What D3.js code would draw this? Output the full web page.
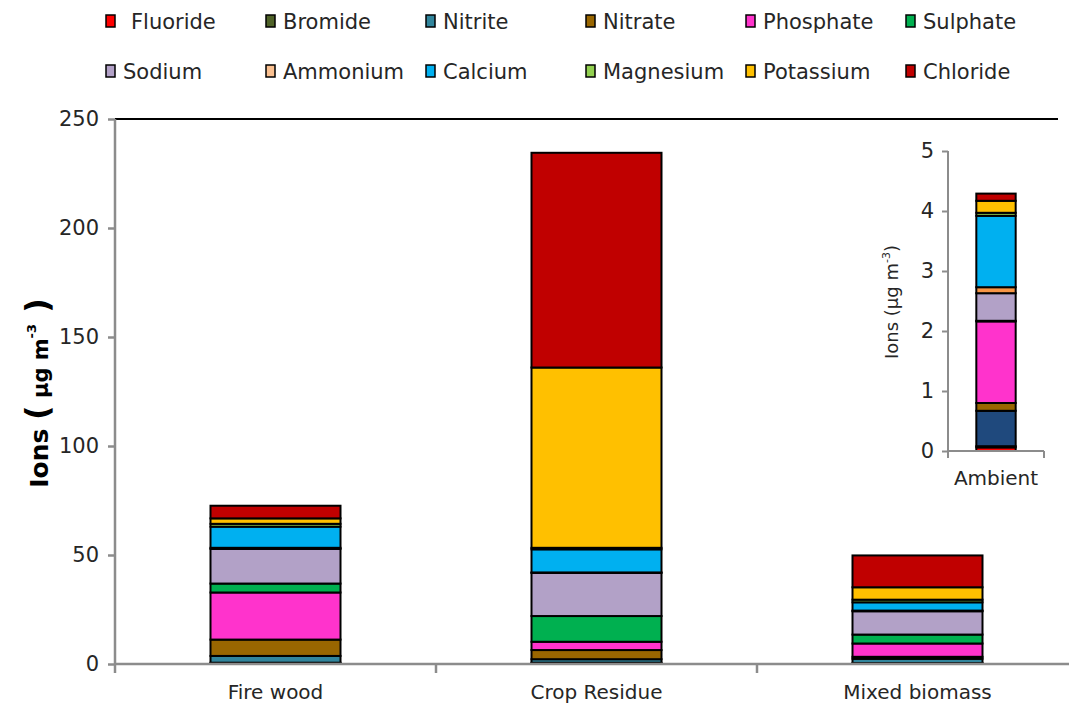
<!DOCTYPE html>
<html>
<head>
<meta charset="utf-8">
<script src="https://cdn.jsdelivr.net/npm/d3@7/dist/d3.min.js"></script>
<style>
  html, body { margin: 0; padding: 0; background: #fff; }
  svg { display: block; font-family: "DejaVu Sans", Verdana, sans-serif; }
</style>
</head>
<body>
<svg id="chart" width="1069" height="708"></svg>
<script>
// Ion species, stacked bottom to top
const ions = ["Fluoride", "Bromide", "Nitrite", "Nitrate", "Phosphate", "Sulphate",
              "Sodium", "Ammonium", "Calcium", "Magnesium", "Potassium", "Chloride"];

// Source categories of the main panel
const sources = ["Fire wood", "Crop Residue", "Mixed biomass"];

// Ion concentrations (µg m-3) per source, in the order of `ions`
const fireWood     = [0.3, 0.3, 3.1, 7.5, 21.6, 4.1, 15.9, 0.5, 9.7, 1.3, 2.5, 5.8];
const cropResidue  = [0.3, 0.3, 1.6, 4.2, 3.8, 11.8, 19.8, 0.2, 10.6, 0.7, 82.7, 98.5];
const mixedBiomass = [0.2, 0.2, 2.0, 0.9, 6.1, 4.1, 10.7, 0.3, 3.8, 1.2, 5.7, 14.6];

// Ambient concentrations (µg m-3), shown in the inset
const ambientLabel = ["Ambient"];
const ambient      = [0.06, 0.02, 0.59, 0.13, 1.36, 0.01, 0.46, 0.10, 1.19, 0.05, 0.20, 0.12];

// Axis tick values
const mainTicks  = [0, 50, 100, 150, 200, 250];
const insetTicks = [0, 1, 2, 3, 4, 5];

// Fill colours
const ionColors   = ["#FF0000", "#4F6228", "#31859C", "#996600", "#FF33CC", "#00B050",
                     "#B2A1C7", "#FAC090", "#00B0F0", "#92D050", "#FFC000", "#C00000"];
const insetColors = ["#FF0000", "#4F6228", "#1F497D", "#996600", "#FF33CC", "#00B050",
                     "#B2A1C7", "#F79646", "#00B0F0", "#92D050", "#FFC000", "#C00000"];

const svg = d3.select("#chart");
const axisGrey = "#8C8C8C";
const textCol = "#262626";
const font = "DejaVu Sans, Verdana, sans-serif";

// ---------- main panel ----------
const plot = { left: 115, right: 1078, top: 119, bottom: 664 };

const y = d3.scaleLinear().domain([0, 250]).range([plot.bottom, plot.top]);
const x = d3.scaleBand().domain(sources).range([plot.left, plot.right])
  .paddingInner(0.595).paddingOuter(0.2975);
const xCell = d3.scaleBand().domain(sources).range([plot.left, plot.right]);

const mainRows = sources.map((s, i) => {
  const vals = [fireWood, cropResidue, mixedBiomass][i];
  const row = { source: s };
  ions.forEach((k, j) => row[k] = vals[j]);
  return row;
});
const mainStack = d3.stack().keys(ions)(mainRows);

// top frame line
svg.append("line")
  .attr("x1", plot.left).attr("x2", 1058)
  .attr("y1", plot.top).attr("y2", plot.top)
  .attr("stroke", "#000").attr("stroke-width", 2);

// bars
const gBars = svg.append("g");
mainStack.forEach((layer, li) => {
  gBars.selectAll(null).data(layer).join("rect")
    .attr("x", d => x(d.data.source))
    .attr("width", x.bandwidth())
    .attr("y", d => y(d[1]))
    .attr("height", d => y(d[0]) - y(d[1]))
    .attr("fill", ionColors[li])
    .attr("stroke", "#000")
    .attr("stroke-width", 2);
});

// y axis
const yAxis = svg.append("g")
  .attr("transform", `translate(${plot.left},0)`)
  .call(d3.axisLeft(y).tickValues(mainTicks).tickSize(7).tickPadding(9));
yAxis.select(".domain").attr("stroke", axisGrey).attr("stroke-width", 2.5)
  .attr("d", `M0,${plot.top}V${plot.bottom}`);
yAxis.selectAll(".tick line").attr("stroke", axisGrey).attr("stroke-width", 2.5);
yAxis.selectAll(".tick text").attr("fill", textCol)
  .style("font-size", "21px").style("font-family", font);

// x axis
const xAxis = svg.append("g")
  .attr("transform", `translate(0,${plot.bottom})`)
  .call(d3.axisBottom(x).tickSize(0).tickPadding(21));
xAxis.select(".domain").attr("stroke", axisGrey).attr("stroke-width", 2.5)
  .attr("d", `M${plot.left},0H${plot.right}`);
xAxis.selectAll(".tick text").attr("fill", textCol)
  .style("font-size", "20px").style("font-family", font);
// category separator ticks
xAxis.selectAll("line.sep").data(sources.concat([null])).join("line")
  .attr("class", "sep")
  .attr("x1", (d, i) => plot.left + i * xCell.step())
  .attr("x2", (d, i) => plot.left + i * xCell.step())
  .attr("y1", 0).attr("y2", 9)
  .attr("stroke", axisGrey).attr("stroke-width", 2.5);

// y axis title
const yTitle = svg.append("text")
  .attr("transform", `translate(48,393) rotate(-90)`)
  .attr("text-anchor", "middle")
  .attr("fill", "#000")
  .style("font-weight", "bold");
yTitle.append("tspan").style("font-size", "25px").text("Ions ");
yTitle.append("tspan").style("font-size", "32px").text("(");
yTitle.append("tspan").style("font-size", "21px").text(" \u00B5g m");
yTitle.append("tspan").style("font-size", "13px").attr("dy", -12).text("-3");
yTitle.append("tspan").style("font-size", "32px").attr("dy", 12).text(" )");

// ---------- inset: ambient ----------
const inset = { left: 948, right: 1044, top: 151, bottom: 451 };
const yIn = d3.scaleLinear().domain([0, 5]).range([inset.bottom, inset.top]);
const xIn = d3.scaleBand().domain(ambientLabel).range([inset.left, inset.right])
  .paddingInner(0.59).paddingOuter(0.295);

const insetRow = { source: ambientLabel[0] };
ions.forEach((k, j) => insetRow[k] = ambient[j]);
const insetStack = d3.stack().keys(ions)([insetRow]);

const gIn = svg.append("g");
insetStack.forEach((layer, li) => {
  gIn.selectAll(null).data(layer).join("rect")
    .attr("x", d => xIn(d.data.source))
    .attr("width", xIn.bandwidth())
    .attr("y", d => yIn(d[1]))
    .attr("height", d => yIn(d[0]) - yIn(d[1]))
    .attr("fill", insetColors[li])
    .attr("stroke", "#000")
    .attr("stroke-width", 2);
});

const yInAxis = svg.append("g")
  .attr("transform", `translate(${inset.left},0)`)
  .call(d3.axisLeft(yIn).tickValues(insetTicks).tickFormat(d3.format("d"))
    .tickSize(6).tickPadding(8));
yInAxis.select(".domain").attr("stroke", axisGrey).attr("stroke-width", 2)
  .attr("d", `M0,${inset.top}V${inset.bottom}`);
yInAxis.selectAll(".tick line").attr("stroke", axisGrey).attr("stroke-width", 2);
yInAxis.selectAll(".tick text").attr("fill", textCol)
  .style("font-size", "21px").style("font-family", font);

const xInAxis = svg.append("g")
  .attr("transform", `translate(0,${inset.bottom})`)
  .call(d3.axisBottom(xIn).tickSize(0).tickPadding(20));
xInAxis.select(".domain").attr("stroke", axisGrey).attr("stroke-width", 2)
  .attr("d", `M${inset.left},0H${inset.right}`);
xInAxis.selectAll(".tick text").attr("fill", textCol)
  .style("font-size", "20px").style("font-family", font);
xInAxis.selectAll("line.sep").data([0, 1]).join("line")
  .attr("class", "sep")
  .attr("x1", d => d ? inset.right : inset.left)
  .attr("x2", d => d ? inset.right : inset.left)
  .attr("y1", 0).attr("y2", 7)
  .attr("stroke", axisGrey).attr("stroke-width", 2);

const inTitle = svg.append("text")
  .attr("transform", `translate(898,302) rotate(-90)`)
  .attr("text-anchor", "middle")
  .attr("fill", textCol)
  .style("font-size", "18px");
inTitle.append("tspan").text("Ions (\u00B5g m");
inTitle.append("tspan").style("font-size", "11px").attr("dy", -8).text("-3");
inTitle.append("tspan").attr("dy", 8).text(")");

// ---------- legend ----------
const legendCols = 6;
const legend = svg.append("g");
ions.forEach((name, i) => {
  const col = i % legendCols, row = Math.floor(i / legendCols);
  const gx = 106 + col * 160, gy = 21 + row * 50;
  const g = legend.append("g").attr("transform", `translate(${gx},${gy})`);
  g.append("rect")
    .attr("x", 0).attr("y", -6).attr("width", 9).attr("height", 12)
    .attr("fill", ionColors[i]).attr("stroke", "#000").attr("stroke-width", 1.5);
  g.append("text")
    .attr("x", i === 0 ? 25 : 17).attr("y", 8)
    .attr("fill", textCol)
    .style("font-size", "21px")
    .text(name);
});
</script>
</body>
</html>
